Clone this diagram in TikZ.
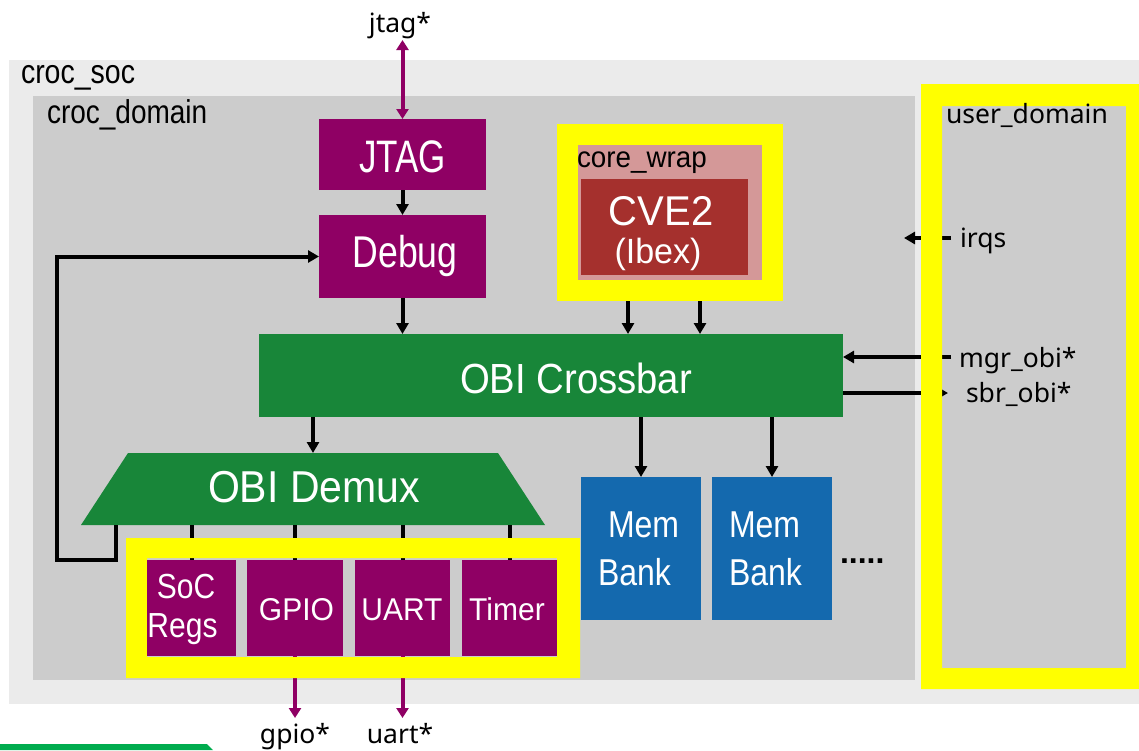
\documentclass[tikz,border=0pt]{standalone}
\usepackage{fontspec}
\setmainfont{Liberation Sans}
\newfontfamily\portfont{Noto Sans}
\usetikzlibrary{arrows.meta}

\definecolor{socgray}{HTML}{EBEBEB}
\definecolor{domgray}{HTML}{CCCCCC}
\definecolor{blkpurple}{HTML}{8F0064}
\definecolor{blkgreen}{HTML}{188639}
\definecolor{cpured}{HTML}{A5302D}
\definecolor{wrappink}{HTML}{D49898}
\definecolor{membl}{HTML}{1469AE}
\definecolor{hiyellow}{HTML}{FFFF00}
\definecolor{bargreen}{HTML}{00AC4E}

\newcommand\fsz[1]{\fontsize{#1}{#1}\selectfont}
\newcommand\tall[2]{\scalebox{1}[#1]{#2}}

\tikzset{
  blk/.style={anchor=north west, inner sep=0pt, outer sep=0pt, draw=none},
  wlbl/.style={anchor=base, text=white, inner sep=0pt, outer sep=0pt},
  klbl/.style={anchor=base west, text=black, inner sep=0pt, outer sep=0pt},
  plbl/.style={anchor=base, text=black, inner sep=0pt, outer sep=0pt, font=\portfont\fsz{26.5}},
  wire/.style={line width=4pt, draw=black, line join=miter},
  arr/.style={-{Triangle[width=12pt,length=11pt]}},
  pwire/.style={line width=4pt, draw=blkpurple},
}

\begin{document}
\begin{tikzpicture}[x=1pt,y=-1pt]
\useasboundingbox (0,0) rectangle (1139,750);

% soc and domain backgrounds
\node[blk, fill=socgray, minimum width=1130pt, minimum height=644pt] (soc) at (9,60) {};
\node[blk, fill=domgray, minimum width=882pt, minimum height=584pt] (dom) at (33,96) {};
\node[blk, fill=domgray, minimum width=184pt, minimum height=562pt] (user) at (942,106) {};

% labels of the containers
\node[klbl] (socT) at (21,83) {\fsz{28.5}\tall{1.18}{croc\_soc}};
\node[klbl] (domT) at (47,123) {\fsz{28}\tall{1.18}{croc\_domain}};

% debug path
\node[blk, fill=blkpurple, minimum width=167pt, minimum height=71pt] (jtag) at (319,119) {};
\node[blk, fill=blkpurple, minimum width=167pt, minimum height=83pt] (debug) at (319,215) {};
\node[wlbl] (jtagT) at (402.5,172) {\fsz{35}\tall{1.3}{JTAG}};
\node[wlbl] (debugT) at (405,267) {\fsz{35.6}\tall{1.25}{Debug}};

% core wrapper
\node[blk, fill=hiyellow, minimum width=226pt, minimum height=177pt] (corey) at (557,124) {};
\node[blk, fill=wrappink, minimum width=184pt, minimum height=135pt] (wrap) at (578,145) {};
\node[blk, fill=cpured, minimum width=167pt, minimum height=96pt] (cpu) at (581,179) {};
\node[klbl] (wrapT) at (577,167) {\fsz{27.8}\tall{1.05}{core\_wrap}};
\node[wlbl] (cpuT) at (661,225) {\fsz{40}\tall{1.04}{CVE2}};
\node[wlbl] (ibexT) at (658,263) {\fsz{34}\tall{1.03}{(Ibex)}};

% crossbar
\node[blk, fill=blkgreen, minimum width=584pt, minimum height=83pt] (xbar) at (259,334) {};
\node[wlbl] (xbarT) at (576,393) {\fsz{38.3}\tall{1.1}{OBI Crossbar}};

% demux
\node[blk, minimum width=464pt, minimum height=72pt] (demux) at (81,453) {};
\fill[blkgreen] (128,453) -- (498,453) -- (545,525) -- (81,525) -- cycle;
\node[wlbl] (demuxT) at (314,502) {\fsz{41}\tall{1.09}{OBI Demux}};

% memory banks
\node[blk, fill=membl, minimum width=120pt, minimum height=143pt] (mem1) at (581,477) {};
\node[blk, fill=membl, minimum width=120pt, minimum height=143pt] (mem2) at (712,477) {};
\node[klbl, text=white] (mem1a) at (608,537) {\fsz{32}\tall{1.17}{Mem}};
\node[klbl, text=white] (mem1b) at (598,585) {\fsz{32}\tall{1.17}{Bank}};
\node[klbl, text=white] (mem2a) at (729,537) {\fsz{32}\tall{1.17}{Mem}};
\node[klbl, text=white] (mem2b) at (729,585) {\fsz{32}\tall{1.17}{Bank}};
\node[klbl] (dots) at (840,563) {\fsz{32}\bfseries .....};

% peripheral boxes (placed now so connectors can refer to them)
\node[blk, minimum width=89pt, minimum height=96pt] (socregs) at (147,560) {};
\node[blk, minimum width=96pt, minimum height=96pt] (gpio) at (247,560) {};
\node[blk, minimum width=95pt, minimum height=96pt] (uart) at (355,560) {};
\node[blk, minimum width=95pt, minimum height=96pt] (timer) at (462,560) {};

% port end points
\coordinate (jtagP) at (402.5,40);
\coordinate (gpioP) at (295,718);
\coordinate (uartP) at (402.5,718);
\coordinate (irqsP) at (951,238);
\coordinate (irqsE) at (904,238);
\coordinate (mgrP) at (951,357);
\coordinate (sbrP) at (948,393);
\coordinate (fbk) at (116,525);
\coordinate (loopA) at (57,560);
\coordinate (c1) at (628,0);
\coordinate (c2) at (700,0);

% connectors
\draw[pwire, {Triangle[width=12pt,length=10pt]}-{Triangle[width=12pt,length=10pt]}] (jtagP) -- (jtag.north);
\draw[wire, arr] (jtag.south) -- (debug.north);
\draw[wire, arr] (debug.south) -- (debug.south |- xbar.north);
\draw[wire, arr] (corey.south -| c1) -- (xbar.north -| c1);
\draw[wire, arr] (corey.south -| c2) -- (xbar.north -| c2);
\draw[wire, arr] (xbar.south -| demux.north) -- (demux.north);
\draw[wire, arr] (xbar.south -| mem1.north) -- (mem1.north);
\draw[wire, arr] (xbar.south -| mem2.north) -- (mem2.north);
\draw[wire, arr] (fbk) |- (loopA) |- (debug.west);
\foreach \p in {socregs, gpio, uart, timer}
  \draw[wire] (demux.south -| \p.north) -- (\p.north);
\draw[wire, arr] (irqsP) -- (irqsE);
\draw[wire, arr] (mgrP) -- (mgrP -| xbar.east);
\draw[wire, arr] (sbrP -| xbar.east) -- (sbrP);
\draw[pwire, -{Triangle[width=12pt,length=10pt]}] (gpio.south) -- (gpioP);
\draw[pwire, -{Triangle[width=12pt,length=10pt]}] (uart.south) -- (uartP);

% highlight frames
\fill[hiyellow, even odd rule] (126,538) rectangle (580,678) (147,558) rectangle (557,657);
\fill[hiyellow, even odd rule] (921,84) rectangle (1150,689) (942,106) rectangle (1126,668);

% peripheral boxes
\foreach \p in {socregs, gpio, uart, timer}
  \fill[blkpurple] (\p.north west) rectangle (\p.south east);
\node[wlbl] (socT1) at (186,598) {\fsz{30}\tall{1.16}{SoC}};
\node[wlbl] (socT2) at (182.5,637) {\fsz{30}\tall{1.16}{Regs}};
\node[wlbl] (gpioT) at (296.5,620) {\fsz{30}\tall{1.05}{GPIO}};
\node[wlbl] (uartT) at (402,620) {\fsz{30}\tall{1.05}{UART}};
\node[wlbl] (timerT) at (507,620) {\fsz{30}\tall{1.05}{Timer}};

% user domain and port labels
\node[klbl, font=\portfont\fsz{26.5}] (userT) at (946,123) {user\_domain};
\node[klbl, font=\portfont\fsz{26.5}] (irqsT) at (960,247) {irqs};
\node[klbl, font=\portfont\fsz{26.5}] (mgrT) at (959,367) {mgr\_obi*};
\node[klbl, font=\portfont\fsz{26.5}] (sbrT) at (966,402) {sbr\_obi*};
\node[plbl] (jtagL) at (400,32) {jtag*};
\node[plbl] (gpioL) at (295,743) {gpio*};
\node[plbl] (uartL) at (400,743) {uart*};

% green bar at the lower left edge
\fill[bargreen] (0,744) -- (207,744) -- (213,750) -- (0,750) -- cycle;
\end{tikzpicture}
\end{document}
